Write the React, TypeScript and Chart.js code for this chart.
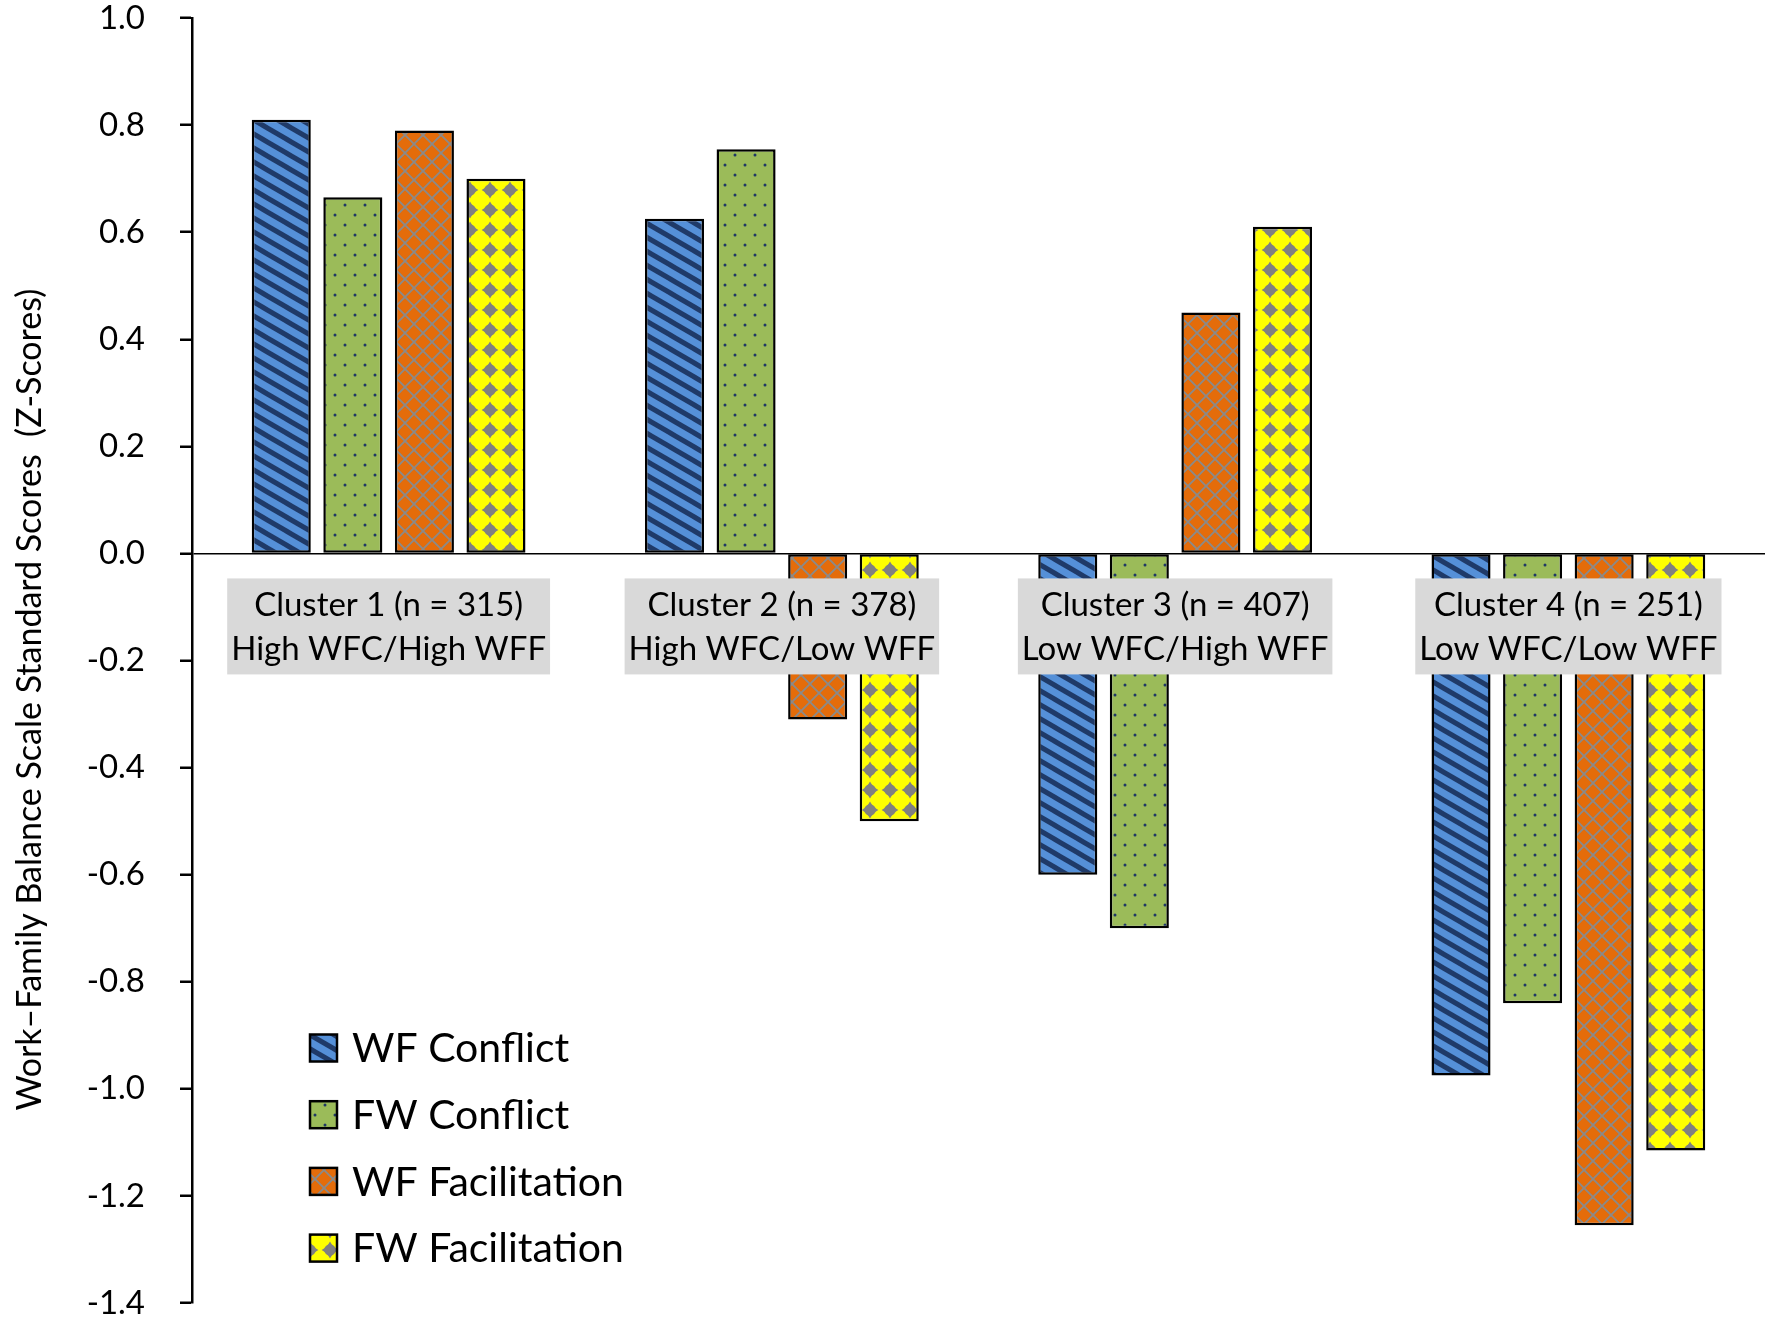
import React, { useEffect, useRef } from "react";
import { Chart, registerables } from "chart.js";

Chart.register(...registerables);

const categories: string[][] = [
  ["Cluster 1 (n = 315)", "High WFC/High WFF"],
  ["Cluster 2 (n = 378)", "High WFC/Low WFF"],
  ["Cluster 3 (n = 407)", "Low WFC/High WFF"],
  ["Cluster 4 (n = 251)", "Low WFC/Low WFF"],
];
const seriesLabels = ["WF Conflict", "FW Conflict", "WF Facilitation", "FW Facilitation"];
const wfConflict = [0.81, 0.625, -0.6, -0.975];
const fwConflict = [0.665, 0.755, -0.7, -0.84];
const wfFacilitation = [0.79, -0.31, 0.45, -1.255];
const fwFacilitation = [0.7, -0.5, 0.61, -1.115];
const yMin = -1.4;
const yMax = 1.0;
const yStep = 0.2;
const yTitle = "Work\u2013Family Balance Scale Standard Scores  (Z-Scores)";

const FONT = "Lato, 'Open Sans', sans-serif";

function makeTile(w: number, h: number, draw: (c: CanvasRenderingContext2D) => void) {
  const cv = document.createElement("canvas");
  cv.width = w;
  cv.height = h;
  const c = cv.getContext("2d")!;
  draw(c);
  return cv;
}

function makePatterns(ctx: CanvasRenderingContext2D) {
  const stripes = makeTile(24, 14, (c) => {
    c.fillStyle = "#5590d8";
    c.fillRect(0, 0, 24, 14);
    c.strokeStyle = "#1f3a68";
    c.lineWidth = 5;
    for (let k = -2; k <= 2; k++) {
      c.beginPath();
      c.moveTo(-24, -14 + k * 14);
      c.lineTo(48, 28 + k * 14);
      c.stroke();
    }
  });
  const dots = makeTile(20, 20, (c) => {
    c.fillStyle = "#9bbb59";
    c.fillRect(0, 0, 20, 20);
    c.fillStyle = "#1f3864";
    c.beginPath();
    c.arc(5, 5, 1.5, 0, Math.PI * 2);
    c.fill();
    c.beginPath();
    c.arc(15, 15, 1.5, 0, Math.PI * 2);
    c.fill();
  });
  const lattice = makeTile(18, 18, (c) => {
    c.fillStyle = "#e46c0a";
    c.fillRect(0, 0, 18, 18);
    c.strokeStyle = "#8a8a8a";
    c.lineWidth = 1.8;
    c.beginPath();
    c.moveTo(-2, -2);
    c.lineTo(20, 20);
    c.moveTo(20, -2);
    c.lineTo(-2, 20);
    c.stroke();
  });
  const stars = makeTile(20, 20, (c) => {
    c.fillStyle = "#ffff00";
    c.fillRect(0, 0, 20, 20);
    c.fillStyle = "#808080";
    const cx = 10;
    const cy = 10;
    c.beginPath();
    c.arc(cx, cy, 5.8, 0, Math.PI * 2);
    c.fill();
    c.beginPath();
    const outer = 8.4;
    const inner = 4.6;
    for (let k = 0; k < 8; k++) {
      const a = (k * Math.PI) / 4 - Math.PI / 2;
      const r = k % 2 === 0 ? outer : inner;
      const px = cx + r * Math.cos(a);
      const py = cy + r * Math.sin(a);
      if (k === 0) c.moveTo(px, py);
      else c.lineTo(px, py);
    }
    c.closePath();
    c.fill();
  });
  return [stripes, dots, lattice, stars].map((t) => ctx.createPattern(t, "repeat")!);
}

// Category labels with grey boxes just under the zero line, plus the in-plot legend
const overlay = {
  id: "overlay",
  afterDatasetsDraw(chart: any) {
    const ctx: CanvasRenderingContext2D = chart.ctx;
    const xs = chart.scales.x;
    const ys = chart.scales.y;
    const zeroY = ys.getPixelForValue(0);
    ctx.save();
    const fs = 33;
    const lh = 44;
    ctx.font = `${fs}px ${FONT}`;
    ctx.textAlign = "center";
    ctx.textBaseline = "middle";
    (chart.data.labels as string[][]).forEach((lines, i) => {
      const cx = xs.getPixelForValue(i);
      const w = Math.max(...lines.map((l) => ctx.measureText(l).width));
      const top = zeroY + 25;
      const padX = 4;
      const padY = 4;
      ctx.fillStyle = "#d9d9d9";
      ctx.fillRect(cx - w / 2 - padX, top, w + 2 * padX, lines.length * lh + 2 * padY);
      ctx.fillStyle = "#000";
      lines.forEach((l, j) => ctx.fillText(l, cx, top + padY + lh * j + lh / 2 + 1));
    });
    const x0 = 310;
    const y0 = 1048;
    const rowH = 66.7;
    const box = 27;
    chart.data.datasets.forEach((ds: any, i: number) => {
      const cy = y0 + i * rowH;
      ctx.fillStyle = ds.backgroundColor;
      ctx.fillRect(x0, cy - box / 2, box, box);
      ctx.lineWidth = 2.5;
      ctx.strokeStyle = "#000";
      ctx.strokeRect(x0, cy - box / 2, box, box);
      ctx.fillStyle = "#000";
      ctx.font = `41px ${FONT}`;
      ctx.textBaseline = "middle";
      ctx.textAlign = "left";
      ctx.fillText(ds.label, x0 + box + 15, cy + 1);
    });
    ctx.restore();
  },
};

export default function App() {
  const ref = useRef<HTMLCanvasElement>(null);
  useEffect(() => {
    const canvas = ref.current!;
    const ctx = canvas.getContext("2d")!;
    const patterns = makePatterns(ctx);
    const series = [wfConflict, fwConflict, wfFacilitation, fwFacilitation];
    const chart = new Chart(canvas, {
      type: "bar",
      data: {
        labels: categories,
        datasets: series.map((d, i) => ({
          label: seriesLabels[i],
          data: d,
          backgroundColor: patterns[i],
          borderColor: "#000",
          borderWidth: 2.5,
          borderSkipped: false,
          categoryPercentage: 0.728,
          barPercentage: 0.825,
        })),
      },
      options: {
        animation: false,
        responsive: false,
        devicePixelRatio: 1,
        layout: { padding: { top: 18, bottom: 17, left: 0, right: 7 } },
        plugins: {
          legend: { display: false },
          tooltip: { enabled: false },
        },
        scales: {
          x: {
            display: false,
          },
          y: {
            min: yMin,
            max: yMax,
            afterFit: (s: any) => {
              s.width = 192;
              s.paddingTop = 0;
              s.paddingBottom = 0;
            },
            border: { display: true, color: "#000", width: 2.5 },
            grid: {
              drawOnChartArea: true,
              drawTicks: true,
              tickLength: 12,
              tickColor: "#000",
              tickWidth: 2.5,
              color: (c: any) => (c.tick && Math.abs(c.tick.value) < 1e-9 ? "#000" : "rgba(0,0,0,0)"),
              lineWidth: 1.5,
            },
            ticks: {
              stepSize: yStep,
              color: "#000",
              padding: 35,
              font: { family: FONT, size: 33, lineHeight: 1.0 },
              callback: (v: any) => {
                const n = Number(v);
                return Math.abs(n) < 1e-9 ? "0.0" : n.toFixed(1);
              },
            },
            title: {
              display: true,
              text: yTitle + "\u00a0".repeat(9),
              color: "#000",
              font: { family: FONT, size: 34, lineHeight: 1.2 },
              padding: { top: 10, bottom: 0 },
            },
          },
        },
      },
      plugins: [overlay],
    });
    return () => chart.destroy();
  }, []);
  return (
    <div style={{ position: "absolute", left: 0, top: 0, width: 1772, height: 1320, background: "#fff" }}>
      <canvas ref={ref} width={1772} height={1320} style={{ display: "block" }} />
    </div>
  );
}
